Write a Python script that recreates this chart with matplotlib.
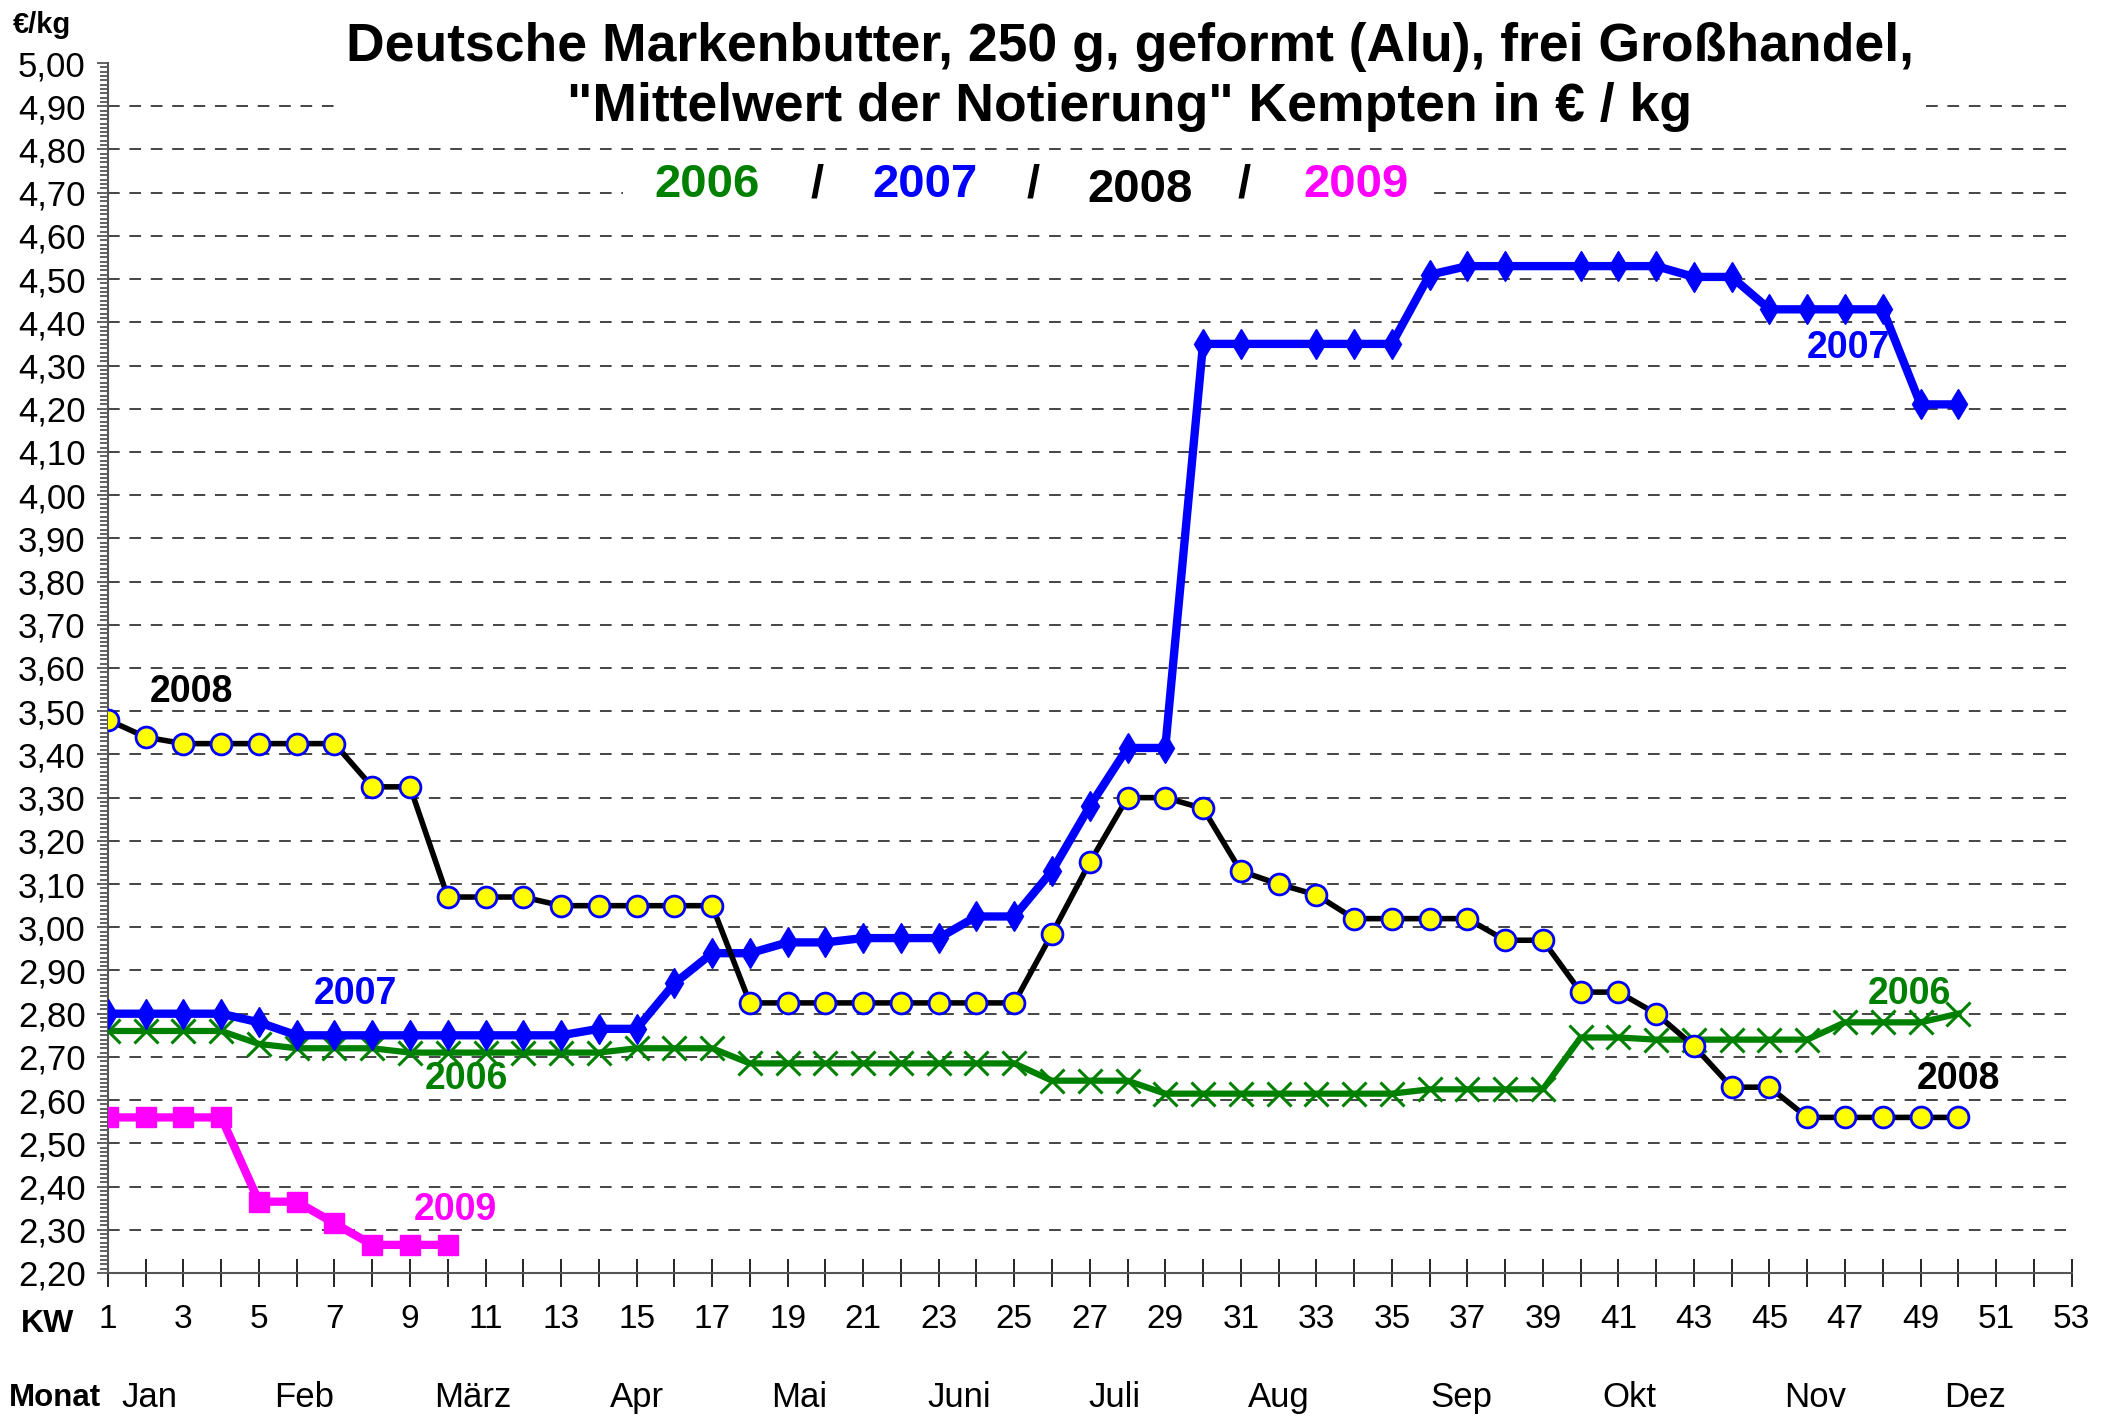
import matplotlib as mpl
mpl.use('Agg')
import numpy as np
import matplotlib.pyplot as plt
from matplotlib.patches import Rectangle
from matplotlib.ticker import MultipleLocator, FuncFormatter

plt.rcParams['font.family'] = ['Liberation Sans', 'DejaVu Sans']

# Kalenderwochen und Notierungen (EUR/kg)
weeks = list(range(1, 51))
p2006 = [2.76, 2.76, 2.76, 2.76, 2.73, 2.72, 2.72, 2.72, 2.71, 2.71,
         2.71, 2.71, 2.71, 2.71, 2.72, 2.72, 2.72, 2.685, 2.685, 2.685,
         2.685, 2.685, 2.685, 2.685, 2.685, 2.645, 2.645, 2.645, 2.615, 2.615,
         2.615, 2.615, 2.615, 2.615, 2.615, 2.625, 2.625, 2.625, 2.625, 2.745,
         2.745, 2.74, 2.74, 2.74, 2.74, 2.74, 2.78, 2.78, 2.78, 2.80]
p2007 = [2.80, 2.80, 2.80, 2.80, 2.78, 2.75, 2.75, 2.75, 2.75, 2.75,
         2.75, 2.75, 2.75, 2.765, 2.765, 2.87, 2.94, 2.94, 2.965, 2.965,
         2.975, 2.975, 2.975, 3.025, 3.025, 3.13, 3.28, 3.415, 3.415, 4.35,
         4.35, None, 4.35, 4.35, 4.35, 4.51, 4.53, 4.53, None, 4.53,
         4.53, 4.53, 4.505, 4.505, 4.43, 4.43, 4.43, 4.43, 4.21, 4.21]
p2008 = [3.48, 3.44, 3.425, 3.425, 3.425, 3.425, 3.425, 3.325, 3.325, 3.07,
         3.07, 3.07, 3.05, 3.05, 3.05, 3.05, 3.05, 2.825, 2.825, 2.825,
         2.825, 2.825, 2.825, 2.825, 2.825, 2.985, 3.15, 3.30, 3.30, 3.275,
         3.13, 3.10, 3.075, 3.02, 3.02, 3.02, 3.02, 2.97, 2.97, 2.85,
         2.85, 2.80, 2.725, 2.63, 2.63, 2.56, 2.56, 2.56, 2.56, 2.56]
weeks_2009 = list(range(1, 11))
p2009 = [2.56, 2.56, 2.56, 2.56, 2.365, 2.365, 2.315, 2.265, 2.265, 2.265]

months = ['Jan', 'Feb', 'März', 'Apr', 'Mai', 'Juni', 'Juli', 'Aug', 'Sep', 'Okt', 'Nov', 'Dez']
month_pos = [2.1, 6.2, 10.65, 15.0, 19.3, 23.55, 27.65, 32.0, 36.85, 41.3, 46.2, 50.45]

GREEN = '#008000'
BLUE = '#0000FF'
MAGENTA = '#FF00FF'

fig = plt.figure(figsize=(21.16, 14.16), dpi=100)
ax = fig.add_axes([0.051, 0.101, 0.928, 0.8545])

ax.set_xlim(1, 53)
ax.set_ylim(2.2, 5.0)

# Gitterlinien
ax.hlines(np.arange(2.3, 4.95, 0.1), 1, 53, colors='#444444', linestyles=(0, (6, 5)),
          linewidth=1.4, zorder=1)

# 2006
ax.plot(weeks, p2006, color=GREEN, lw=4.5, marker='x', ms=17, mew=2.2, zorder=3)

# 2007 (Lücken werden verbunden, aber ohne Marker)
w07 = [w for w, v in zip(weeks, p2007) if v is not None]
v07 = [v for v in p2007 if v is not None]
ax.plot(w07, v07, color=BLUE, lw=6, marker='d', ms=15, zorder=4)

# 2008
ax.plot(weeks, p2008, color='black', lw=4, marker='o', ms=15, mfc='yellow',
        mec=BLUE, mew=2, zorder=5)

# 2009
ax.plot(weeks_2009, p2009, color=MAGENTA, lw=6, marker='s', ms=15, zorder=6)

# Achsen
for s in ['top', 'right']:
    ax.spines[s].set_visible(False)
ax.spines['left'].set_color('#555555')
ax.spines['left'].set_linewidth(1.5)
ax.spines['bottom'].set_color('#555555')
ax.spines['bottom'].set_linewidth(1.5)

ax.yaxis.set_major_locator(MultipleLocator(0.1))
ax.yaxis.set_minor_locator(MultipleLocator(0.01))
ax.yaxis.set_major_formatter(FuncFormatter(lambda v, p: ('%.2f' % v).replace('.', ',')))
ax.tick_params(axis='y', which='major', length=8, width=1.3, labelsize=25, pad=8, color='#555555')
ax.tick_params(axis='y', which='minor', length=6, width=1.3, color='#555555')

ax.set_xticks(range(1, 54))
ax.set_xticklabels([str(w) if w % 2 == 1 else '' for w in range(1, 54)])
ax.tick_params(axis='x', direction='inout', length=20, width=1.2, labelsize=24, pad=12)

# Titel
fig.text(0.534, 0.9455, 'Deutsche Markenbutter, 250 g, geformt (Alu), frei Großhandel,\n'
         '"Mittelwert der Notierung" Kempten in € / kg',
         ha='center', va='center', fontsize=38.5, fontweight='bold', linespacing=1.27,
         bbox=dict(facecolor='white', edgecolor='none', pad=2), zorder=10)

# Jahreszeile (weißer Hintergrund unterbricht die Gitterlinie)
fig.patches.append(Rectangle((0.2945, 0.850), 0.382, 0.04, transform=fig.transFigure,
                             facecolor='white', edgecolor='none', zorder=9))
yr_y = 0.869
for x, s, c in [(0.334, '2006', GREEN), (0.386, '/', 'black'), (0.437, '2007', BLUE),
                (0.488, '/', 'black'), (0.539, '2008', 'black'), (0.588, '/', 'black'),
                (0.641, '2009', MAGENTA)]:
    fig.text(x, yr_y - (0.003 if s == '2008' else 0), s, ha='center', va='center',
             fontsize=34, fontweight='bold', color=c, zorder=10)

fig.text(0.020, 0.982, '€/kg', ha='center', va='center', fontsize=21, fontweight='bold')
fig.text(0.0225, 0.065, 'KW', ha='center', va='center', fontsize=23, fontweight='bold')
fig.text(0.026, 0.013, 'Monat', ha='center', va='center', fontsize=22.5, fontweight='bold')

for m, x in zip(months, month_pos):
    ax.text(x, -0.1025, m, transform=ax.get_xaxis_transform(), ha='center', va='center',
            fontsize=25)

# Serienbeschriftungen
lab = dict(fontsize=27, fontweight='bold', ha='center', va='center', zorder=8)
ax.text(3.2, 3.545, '2008', color='black', **lab)
ax.text(7.55, 2.845, '2007', color=BLUE, **lab)
ax.text(10.5, 2.65, '2006', color=GREEN, **lab)
ax.text(10.2, 2.345, '2009', color=MAGENTA, **lab)
ax.text(48.7, 2.845, '2006', color=GREEN, **lab)
ax.text(50.0, 2.65, '2008', color='black', **lab)
ax.text(47.1, 4.34, '2007', color=BLUE, **lab)

fig.savefig('out.png', dpi=100)
